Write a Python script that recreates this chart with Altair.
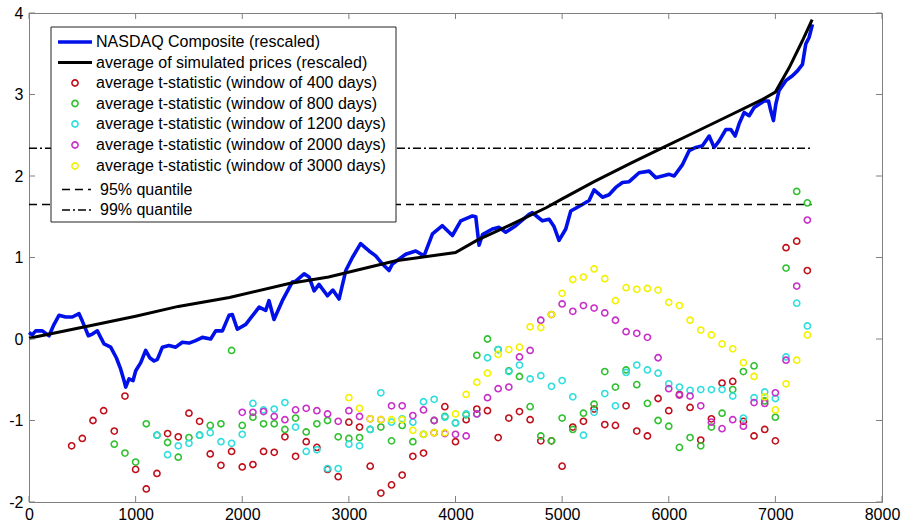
import altair as alt
import pandas as pd

# ---------------- data ----------------
nasdaq_x = [0, 30, 63, 125, 188, 235, 281, 344, 406, 469, 500, 557, 594, 641, 672, 704, 766, 819, 860,
            891, 907, 938, 976, 1001, 1048, 1094, 1132, 1173, 1204, 1251, 1313, 1376, 1438, 1501, 1563,
            1626, 1704, 1751, 1814, 1876, 1907, 1954, 2033, 2158, 2220, 2251, 2298, 2376, 2470, 2502,
            2580, 2627, 2674, 2720, 2799, 2850, 2908, 2971, 3033, 3110, 3189, 3252, 3315, 3377, 3408,
            3533, 3627, 3705, 3784, 3877, 3971, 4049, 4159, 4190, 4221, 4253, 4346, 4409, 4471, 4565,
            4690, 4721, 4768, 4815, 4878, 4924, 4971, 5034, 5081, 5190, 5253, 5300, 5378, 5440, 5503,
            5566, 5629, 5722, 5816, 5878, 5941, 6004, 6051, 6129, 6191, 6254, 6316, 6379, 6426, 6473,
            6535, 6582, 6623, 6660, 6707, 6754, 6801, 6848, 6895, 6936, 6957, 6982, 7004, 7035, 7098,
            7160, 7207, 7254, 7285, 7316, 7348]
nasdaq_y = [0.08, 0.05, 0.10, 0.10, 0.04, 0.18, 0.29, 0.27, 0.27, 0.31, 0.22, 0.04, 0.06, 0.10, 0.02,
            -0.06, -0.10, -0.23, -0.37, -0.51, -0.59, -0.49, -0.51, -0.39, -0.29, -0.14, -0.23, -0.27,
            -0.25, -0.10, -0.08, -0.10, -0.04, -0.05, -0.02, 0.02, 0.00, 0.10, 0.10, 0.29, 0.30, 0.12,
            0.18, 0.39, 0.35, 0.47, 0.24, 0.47, 0.70, 0.71, 0.80, 0.76, 0.59, 0.67, 0.53, 0.60, 0.49,
            0.84, 1.00, 1.17, 1.08, 1.02, 0.92, 0.84, 0.92, 1.04, 1.08, 1.02, 1.29, 1.39, 1.27, 1.45,
            1.51, 1.50, 1.15, 1.28, 1.35, 1.37, 1.31, 1.39, 1.53, 1.55, 1.50, 1.45, 1.47, 1.38, 1.21,
            1.35, 1.57, 1.65, 1.70, 1.83, 1.74, 1.77, 1.86, 1.92, 1.93, 2.04, 2.06, 1.98, 2.00, 2.02,
            2.00, 2.14, 2.31, 2.35, 2.37, 2.49, 2.35, 2.43, 2.57, 2.57, 2.49, 2.64, 2.78, 2.74, 2.84,
            2.88, 2.92, 2.92, 2.80, 2.68, 2.88, 3.05, 3.17, 3.23, 3.29, 3.37, 3.62, 3.70, 3.86]

sim_x = [0, 560, 1000, 1400, 1880, 2440, 2810, 3440, 4000, 4200, 4500, 4850, 5000, 5300, 5650, 5950,
         6250, 6550, 6880, 7000, 7130, 7250, 7345]
sim_y = [0.01, 0.16, 0.28, 0.40, 0.51, 0.68, 0.76, 0.96, 1.06, 1.21, 1.39, 1.61, 1.72, 1.93, 2.16, 2.35,
         2.54, 2.73, 2.94, 3.03, 3.33, 3.65, 3.92]

t400 = [-1.31, -1.22, -1.00, -0.88, -1.13, -0.70,
        -1.60, -1.84, -1.65, -1.16, -1.20, -0.91, -1.01, -1.41, -1.55, -1.38,
        -1.57, -1.54, -1.38, -1.39, -1.20, -1.44, -1.26, -1.33, -1.60, -1.69,
        -1.02, -1.08, -1.56, -1.89, -1.79, -1.67, -1.44, -1.40, -1.15, -0.83,
        -1.26, -0.99, -0.86, -0.88, -1.21, -0.97, -0.89, -0.99, -1.25, -1.25,
        -1.56, -1.08, -1.01, -0.86, -1.05, -1.06, -0.82, -1.13, -1.19, -0.73,
        -0.88, -0.68, -0.84, -1.24, -0.98, -0.54, -0.52, -1.01, -1.19, -1.11,
        -1.25, 1.12, 1.20, 0.84]
t800 = [-1.29, -1.40,
        -1.51, -1.04, -1.18, -1.27, -1.45, -1.21, -1.18, -1.06, -1.04, -0.14,
        -1.06, -0.96, -1.04, -1.04, -1.11, -0.97, -1.14, -1.04, -1.00, -1.20,
        -1.22, -1.21, -1.11, -1.08, -1.25, -1.06, -1.26, -1.17, -1.00, -0.95,
        -1.03, -0.93, -0.20, 0.00, -0.13, -0.39, -0.46, -0.83, -1.19, -1.25,
        -0.97, -1.11, -0.91, -0.80, -0.40, -0.59, -0.38, -0.56, -0.79, -1.00,
        -1.07, -1.33, -1.21, -1.31, -1.08, -0.91, -0.62, -0.40, -0.33, -0.76,
        -0.96, 0.87, 1.81, 1.67]
t1200 = [-1.18, -1.42, -1.31, -1.28, -1.18, -1.15, -1.26, -1.28,
         -1.17, -0.79, -0.87, -0.86, -0.78, -1.08, -1.38, -1.36, -1.59, -1.59,
         -1.29, -1.31, -1.11, -0.66, -1.02, -0.98, -1.02, -0.77, -0.74, -0.96,
         -1.03, -0.92, -0.92, -0.23, -0.13, -0.40, -0.32, -0.49, -0.45, -0.58,
         -0.51, -0.71, -1.18, -0.90, -0.67, -0.82, -0.41, -0.32, -0.38, -0.42,
         -0.55, -0.59, -0.63, -0.62, -0.62, -0.62, -0.70, -0.97, -0.72, -0.65,
         -0.73, -0.22, 0.44, 0.16]
t2000 = [-0.90, -0.90, -0.89, -0.95, -0.99, -0.87, -0.85, -0.88, -0.92, -1.01,
         -0.88, -0.95, -0.98, -0.99, -0.82, -0.82, -0.94, -0.87, -1.00, -1.16,
         -1.17, -1.19, -0.92, -0.72, -0.61, -0.59, -0.22, -0.14, 0.23, 0.30,
         0.43, 0.34, 0.41, 0.38, 0.32, 0.23, 0.09, 0.07, 0.02, -0.23,
         -0.61, -0.69, -0.70, -0.82, -1.02, -1.10, -0.99, -1.07, -0.78, -0.79,
         -0.66, -0.26, 0.65, 1.46]
t3000 = [-0.72, -0.85, -0.98, -0.99, -0.99, -0.99, -1.12, -1.17, -1.15, -1.15,
         -0.92, -0.68, -0.53, -0.42, -0.19, -0.13, -0.10, 0.15, 0.14, 0.30,
         0.56, 0.73, 0.76, 0.86, 0.74, 0.47, 0.63, 0.61, 0.62, 0.60,
         0.45, 0.41, 0.23, 0.11, 0.05, -0.06, -0.12, -0.29, -0.46, -0.71,
         -0.87, -0.55, -0.26, 0.05]
t_starts = [400, 800, 1200, 2000, 3000]
t_step = 100

q95 = 1.65
q99 = 2.34
quant_end = 7340

x_ticks = [0, 1000, 2000, 3000, 4000, 5000, 6000, 7000, 8000]
y_ticks = [-2, -1, 0, 1, 2, 3, 4]

labels = ["NASDAQ Composite (rescaled)",
          "average of simulated prices (rescaled)",
          "average t-statistic (window of 400 days)",
          "average t-statistic (window of 800 days)",
          "average t-statistic (window of 1200 days)",
          "average t-statistic (window of 2000 days)",
          "average t-statistic (window of 3000 days)",
          "95% quantile",
          "99% quantile"]
t_colors = ["#c0101c", "#30c030", "#30dede", "#c830c8", "#f2f200"]

# ---------------- layout/style ----------------
W, H = 853, 489
FONT = "Liberation Sans"
FRAME = "#808080"
xs = alt.Scale(domain=[0, 8000], nice=False, zero=False)
ys = alt.Scale(domain=[-2, 4], nice=False, zero=False)

x_axis = alt.Axis(values=x_ticks, format="d", title=None, grid=False, ticks=False, tickSize=0,
                  labelPadding=4, domainColor=FRAME, labelFont=FONT, labelFontSize=16,
                  labelColor="black", labelFlush=False, labelOverlap=False)
y_axis = alt.Axis(values=y_ticks, labelExpr="toString(datum.value)", title=None, grid=False,
                  ticks=False, tickSize=0, labelPadding=6, domainColor=FRAME, labelFont=FONT,
                  labelFontSize=16, labelColor="black", labelFlush=False, labelOverlap=False)


def X(field):
    return alt.X(field, scale=xs, axis=x_axis)


def Y(field):
    return alt.Y(field, scale=ys, axis=y_axis)


# ---------------- main layers ----------------
nasdaq = alt.Chart(pd.DataFrame({"x": nasdaq_x, "y": nasdaq_y})).mark_line(
    color="#0010e8", strokeWidth=3.6, strokeJoin="round").encode(x=X("x:Q"), y=Y("y:Q"))

sim = alt.Chart(pd.DataFrame({"x": sim_x, "y": sim_y})).mark_line(
    color="black", strokeWidth=3).encode(x=X("x:Q"), y=Y("y:Q"))

q_df95 = pd.DataFrame({"x": [0], "x1": [quant_end], "y": [q95]})
q_df99 = pd.DataFrame({"x": [0], "x1": [quant_end], "y": [q99]})
rule95 = alt.Chart(q_df95).mark_rule(color="black", strokeWidth=1.5, strokeDash=[8, 5]).encode(
    x=X("x:Q"), x2="x1:Q", y=Y("y:Q"))
rule99 = alt.Chart(q_df99).mark_rule(color="black", strokeWidth=1.5, strokeDash=[8, 3, 2, 3]).encode(
    x=X("x:Q"), x2="x1:Q", y=Y("y:Q"))

rows = []
for name, start, vals in zip(labels[2:7], t_starts, [t400, t800, t1200, t2000, t3000]):
    for i, v in enumerate(vals):
        rows.append({"x": start + i * t_step, "y": v, "series": name})
t_df = pd.DataFrame(rows)
points = alt.Chart(t_df).mark_point(shape="circle", filled=False, size=38, strokeWidth=1.6,
                                    opacity=1).encode(
    x=X("x:Q"), y=Y("y:Q"),
    color=alt.Color("series:N", scale=alt.Scale(domain=labels[2:7], range=t_colors), legend=None))

# inward ticks on all four sides
xt = pd.DataFrame({"x": x_ticks})
yt = pd.DataFrame({"y": y_ticks})
tick_b = alt.Chart(xt).mark_rule(color=FRAME, strokeWidth=1).encode(
    x=X("x:Q"), y=alt.value(H), y2=alt.value(H - 6))
tick_t = alt.Chart(xt).mark_rule(color=FRAME, strokeWidth=1).encode(
    x=X("x:Q"), y=alt.value(0), y2=alt.value(6))
tick_l = alt.Chart(yt).mark_rule(color=FRAME, strokeWidth=1).encode(
    y=Y("y:Q"), x=alt.value(0), x2=alt.value(6))
tick_r = alt.Chart(yt).mark_rule(color=FRAME, strokeWidth=1).encode(
    y=Y("y:Q"), x=alt.value(W), x2=alt.value(W - 6))

# ---------------- legend (manual box) ----------------
one = pd.DataFrame({"k": [0]})
leg_layers = [alt.Chart(one).mark_rect(fill="white", stroke="#222222", strokeWidth=1).encode(
    x=alt.value(22), x2=alt.value(367), y=alt.value(14), y2=alt.value(209))]
row_y = [29, 49.5, 70, 90.5, 111, 132, 153, 176.5, 197]
line_styles = [("#0010e8", 3.6), ("black", 3)]
for i, lab in enumerate(labels):
    yy = row_y[i]
    tx = 67 if i < 7 else 71
    leg_layers.append(alt.Chart(one).mark_text(
        text=lab, font=FONT, fontSize=16, color="black", align="left", baseline="middle").encode(
        x=alt.value(tx), y=alt.value(yy)))
    if i < 2:
        col, sw = line_styles[i]
        leg_layers.append(alt.Chart(one).mark_rule(color=col, strokeWidth=sw).encode(
            x=alt.value(29), x2=alt.value(63), y=alt.value(yy)))
    elif i < 7:
        leg_layers.append(alt.Chart(one).mark_point(
            shape="circle", filled=False, size=38, strokeWidth=1.6, color=t_colors[i - 2], opacity=1).encode(
            x=alt.value(46), y=alt.value(yy)))
    else:
        dash = [8, 5] if i == 7 else [8, 3, 2, 3]
        leg_layers.append(alt.Chart(one).mark_rule(color="black", strokeWidth=1.5, strokeDash=dash).encode(
            x=alt.value(33), x2=alt.value(62), y=alt.value(yy)))

chart = alt.layer(nasdaq, sim, rule95, rule99, points, tick_b, tick_t, tick_l, tick_r,
                  *leg_layers).properties(
    width=W, height=H,
    padding={"left": 29, "top": 13, "right": 21, "bottom": 26},
    autosize=alt.AutoSizeParams(type="none"),
    background="white",
).configure_view(stroke=FRAME, strokeWidth=1)

chart.save("out.html", embed_options={"renderer": "svg", "actions": False})
